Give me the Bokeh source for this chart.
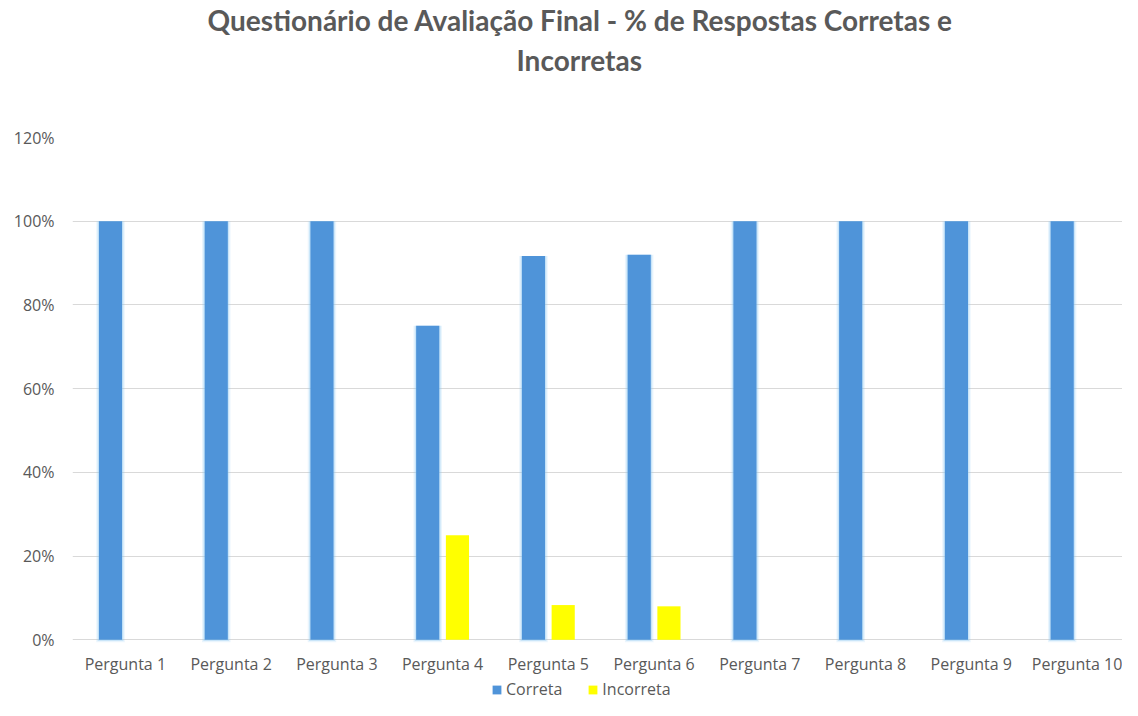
from bokeh.plotting import figure
from bokeh.models import (Range1d, FixedTicker, NumeralTickFormatter,
                          ColumnDataSource, Legend, LegendItem, Title)
from bokeh.core.properties import value
from bokeh.embed import file_html
from bokeh.resources import INLINE

perguntas = ["Pergunta 1", "Pergunta 2", "Pergunta 3", "Pergunta 4", "Pergunta 5",
             "Pergunta 6", "Pergunta 7", "Pergunta 8", "Pergunta 9", "Pergunta 10"]
correta = [1.0, 1.0, 1.0, 0.75, 0.917, 0.92, 1.0, 1.0, 1.0, 1.0]
incorreta = [0.0, 0.0, 0.0, 0.25, 0.083, 0.08, 0.0, 0.0, 0.0, 0.0]
y_ticks = [0, 0.2, 0.4, 0.6, 0.8, 1.0, 1.2]
series_names = ["Correta", "Incorreta"]
title_lines = ["Questionário de Avaliação Final - % de Respostas Corretas e", "Incorretas"]

GRAY = "#595959"
BLUE = "#4F94D9"
YELLOW = "#FFFF00"
TFONT = "Lato"
LFONT = "Open Sans"

bw = 0.219
off = 0.1406
xc = [i + 0.5 for i in range(len(perguntas))]
src = ColumnDataSource(dict(x=xc, xa=[v - off for v in xc], xb=[v + off for v in xc],
                            name=perguntas, correta=correta, incorreta=incorreta))

p = figure(width=1122, height=700, output_backend="svg", toolbar_location=None,
           x_range=Range1d(0, 9.93), y_range=Range1d(-0.145, 1.2),
           x_axis_location=None,
           title=None, min_border_left=72, min_border_right=0,
           min_border_top=130, min_border_bottom=0)
p.outline_line_color = None
p.background_fill_color = "white"
p.border_fill_color = "white"

# titles (spacer closest to frame, then line 2, then line 1)
spacer = Title(text=" ", text_font_size="37px", text_font=TFONT)
t2 = Title(text=title_lines[1], align="left", text_font=TFONT, offset=444,
           text_font_style="bold", text_font_size="28px", text_color=GRAY, standoff=8)
t1 = Title(text=title_lines[0], align="left", text_font=TFONT, offset=135,
           text_font_style="bold", text_font_size="28px", text_color=GRAY, standoff=0)
p.add_layout(spacer, "above")
p.add_layout(t2, "above")
p.add_layout(t1, "above")

# glow behind blue bars
p.vbar(x="xa", top="correta", bottom=-0.006, width=bw + 0.05,
       source=src, fill_color="#8CC8F2", fill_alpha=0.18, line_color=None)
p.vbar(x="xa", top="correta", bottom=-0.003, width=bw + 0.025,
       source=src, fill_color="#8CC8F2", fill_alpha=0.35, line_color=None)
r1 = p.vbar(x="xa", top="correta", width=bw, source=src,
            fill_color=BLUE, line_color=None)
r2 = p.vbar(x="xb", top="incorreta", width=bw, source=src,
            fill_color=YELLOW, line_color=None)

# category labels
p.text(x="x", y=-0.0574, text="name", source=src, text_align="center",
       text_baseline="middle", text_font=value(LFONT), text_font_size="16px",
       text_color=GRAY)

p.yaxis.ticker = FixedTicker(ticks=y_ticks)
p.yaxis.formatter = NumeralTickFormatter(format="0%")
ax = p.yaxis[0]
ax.axis_line_color = None
ax.major_tick_line_color = None
ax.minor_tick_line_color = None
ax.major_label_text_color = GRAY
ax.major_label_text_font = LFONT
ax.major_label_text_font_size = "16px"
ax.major_label_standoff = 12

p.xgrid.grid_line_color = None
p.ygrid.grid_line_color = "#D9D9D9"
p.ygrid.grid_line_width = 1

legend = Legend(items=[LegendItem(label=series_names[0], renderers=[r1]),
                       LegendItem(label=series_names[1], renderers=[r2])],
                orientation="horizontal", location=(419, 0),
                label_text_font=LFONT, label_text_font_size="16px",
                label_text_color=GRAY, glyph_width=11, glyph_height=11,
                label_standoff=4, spacing=25, border_line_color=None,
                background_fill_alpha=0, padding=0, margin=0)
p.add_layout(legend)

open("out.html", "w").write(file_html(p, INLINE))
